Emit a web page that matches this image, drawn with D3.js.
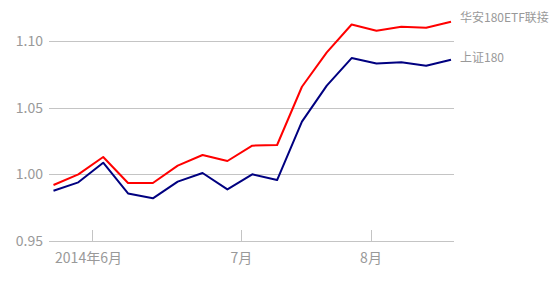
<!DOCTYPE html>
<html>
<head>
<meta charset="utf-8">
<script src="https://cdn.jsdelivr.net/npm/d3@7"></script>
<style>
  body { margin: 0; background: #fff; }
  text { font-family: "Noto Sans CJK SC", "Noto Sans", sans-serif; }
</style>
</head>
<body>
<div id="chart-area"></div>
<script>
// values, one point per period
var fundName = "华安180ETF联接";
var indexName = "上证180";
var fundValues = [0.992, 1.000, 1.013, 0.9935, 0.9935, 1.0065, 1.0145, 1.010, 1.0215, 1.022,
                  1.0657, 1.0915, 1.1124, 1.1077, 1.1107, 1.110, 1.1145];
var indexValues = [0.9877, 0.994, 1.0087, 0.9857, 0.982, 0.9945, 1.001, 0.9887, 1.000, 0.9957,
                   1.0395, 1.0665, 1.0872, 1.0832, 1.084, 1.0815, 1.086];
var monthLabels = ["2014年6月", "7月", "8月"];
var monthPos = [1.53, 7.56, 12.78];   // where each month starts, in point index units
var yTicks = [0.95, 1.00, 1.05, 1.10];

var width = 554;
var height = 299;

var svg = d3.select('#chart-area')
    .append('svg')
        .attr('width', width)
        .attr('height', height);

var x = d3.scaleLinear()
    .domain([0, fundValues.length - 1])
    .range([53.5, 451]);

var y = d3.scaleLinear()
    .domain([0.95, 1.10])
    .range([241, 41]);

var left = 49, right = 454;

// grid lines
svg.append("g")
    .selectAll("line")
    .data(yTicks)
    .enter()
    .append("line")
    .attr("x1", left)
    .attr("x2", right)
    .attr("y1", (d) => Math.round(y(d)) + 0.5)
    .attr("y2", (d) => Math.round(y(d)) + 0.5)
    .attr("stroke", "#c4c4c4")
    .attr("stroke-width", 1);

// y labels
svg.append("g")
    .selectAll("text")
    .data(yTicks)
    .enter()
    .append("text")
    .attr("x", 43)
    .attr("y", (d) => y(d))
    .attr("dy", "0.35em")
    .attr("text-anchor", "end")
    .attr("font-size", "14px")
    .attr("fill", "#999")
    .text((d) => d3.format(".2f")(d));

// month ticks, pointing up from the base line
svg.append("g")
    .selectAll("line")
    .data(monthPos)
    .enter()
    .append("line")
    .attr("x1", (d) => Math.round(x(d)) + 0.5)
    .attr("x2", (d) => Math.round(x(d)) + 0.5)
    .attr("y1", y(0.95) - 11)
    .attr("y2", y(0.95))
    .attr("stroke", "#c4c4c4")
    .attr("stroke-width", 1);

svg.append("g")
    .selectAll("text")
    .data(monthLabels)
    .enter()
    .append("text")
    .attr("x", (d, i) => x(monthPos[i]) - (i === 0 ? 3 : 0))
    .attr("y", 258)
    .attr("dy", "0.35em")
    .attr("text-anchor", "middle")
    .attr("font-size", "14px")
    .attr("fill", "#999")
    .text((d) => d);

var line = d3.line()
    .x((d, i) => x(i))
    .y((d) => y(d));

var series = [
    {name: fundName, values: fundValues, color: "#ff0000", dy: -4},
    {name: indexName, values: indexValues, color: "#000080", dy: -2}
];

series.forEach((s) => {
    svg.append("path")
        .datum(s.values)
        .attr("fill", "none")
        .attr("stroke", s.color)
        .attr("stroke-width", 2)
        .attr("stroke-linejoin", "round")
        .attr("d", line);

    svg.append("text")
        .attr("x", 460)
        .attr("y", y(s.values[s.values.length - 1]) + s.dy)
        .attr("dy", "0.35em")
        .attr("font-size", "12px")
        .attr("fill", "#999")
        .text(s.name);
});
</script>
</body>
</html>
